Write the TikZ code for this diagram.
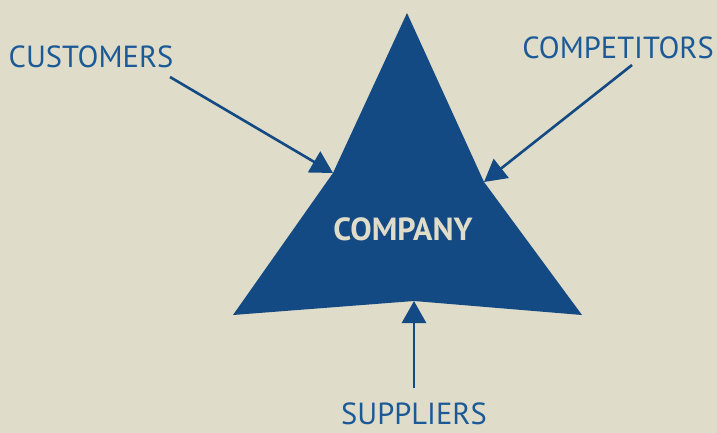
\documentclass[tikz,border=0pt]{standalone}
\usepackage{fontspec}
\setmainfont{PT Sans}
\usetikzlibrary{arrows.meta}

\definecolor{bgbeige}{HTML}{DFDCC9}
\definecolor{darkblue}{HTML}{134A83}
\definecolor{textblue}{HTML}{1B5A96}

\tikzset{
    forcelabel/.style={text=textblue, font=\fontsize{30.5}{33}\selectfont, inner sep=0pt},
    force/.style={draw=darkblue, line width=2.6pt, -{Triangle[length=22pt, width=24pt]}}
}

\begin{document}
\begin{tikzpicture}[x=1pt, y=-1pt]
    \useasboundingbox (0,0) rectangle (717,433);
    \fill[bgbeige] (0,0) rectangle (717,433);

    % the company
    \coordinate (top) at (407,13);
    \coordinate (rk) at (484,182);
    \coordinate (br) at (582,315);
    \coordinate (notch) at (414,301);
    \coordinate (bl) at (233,315);
    \coordinate (lk) at (333,173);
    \fill[darkblue] (top) -- (rk) -- (br) -- (notch) -- (bl) -- (lk) -- cycle;
    \node[text=bgbeige, font=\fontsize{32}{34}\selectfont\bfseries, inner sep=0pt] (company) at (403,229) {COMPANY};

    % forces
    \node[forcelabel] (cust) at (91,57) {CUSTOMERS};
    \node[forcelabel] (comp) at (618,48) {COMPETITORS};
    \node[forcelabel] (supp) at (414,414) {SUPPLIERS};

    \coordinate (custs) at (170,77);
    \coordinate (comps) at (632,65);
    \coordinate (supps) at (414,388);

    \draw[force] (custs) -- (lk);
    \draw[force] (comps) -- (rk);
    \draw[force] (supps) -- (notch);
\end{tikzpicture}
\end{document}
